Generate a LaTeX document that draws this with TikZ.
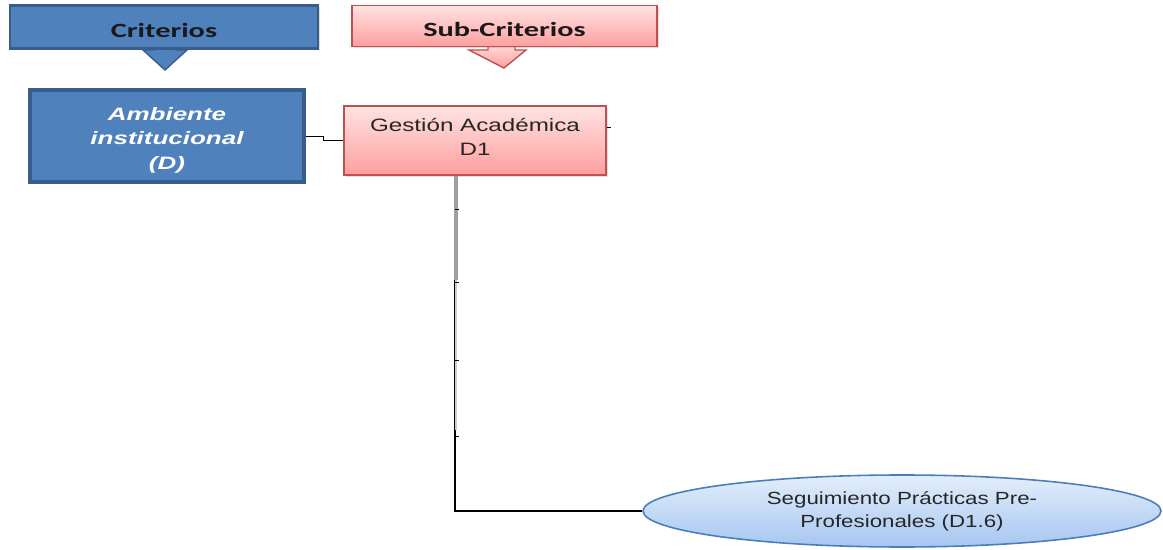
\documentclass[tikz,border=0pt]{standalone}
\usepackage{fontspec}
\setmainfont{Liberation Sans}
\newfontfamily\headfont[FakeStretch=1.5]{Carlito}
\newfontfamily\ambfont[FakeStretch=1.45]{Liberation Sans}
\newfontfamily\gestfont[FakeStretch=1.35]{Liberation Sans}
\newfontfamily\segfont[FakeStretch=1.27]{Liberation Sans}
\usetikzlibrary{shapes.geometric,shadows}
\definecolor{critblue}{HTML}{4F81BD}
\definecolor{critedge}{HTML}{385D8A}
\definecolor{subedge}{HTML}{C0504D}
\definecolor{subtop}{HTML}{FFE3E3}
\definecolor{subbot}{HTML}{FF9E9E}
\definecolor{ovaledge}{HTML}{4A7EBB}
\definecolor{ovaltop}{HTML}{E3EEFC}
\definecolor{ovalbot}{HTML}{A6C6F0}
\definecolor{txtgray}{HTML}{262626}
\begin{document}
\begin{tikzpicture}[x=0.02cm,y=-0.02cm,
 critbox/.style={draw=critedge,fill=critblue,line width=1.2pt,inner sep=0pt,
   drop shadow={opacity=0.25,shadow xshift=1pt,shadow yshift=-1pt}},
 subbox/.style={draw=subedge,top color=subtop,bottom color=subbot,line width=0.9pt,inner sep=0pt,
   drop shadow={opacity=0.25,shadow xshift=1pt,shadow yshift=-1pt}},
 headtxt/.style={font=\headfont\fontsize{11.5}{13}\selectfont\bfseries,text=black!90,text height=11.5pt,text depth=0pt},
 boxtxt/.style={align=center,text=txtgray}]
 \useasboundingbox (0,0) rectangle (1163,550);
 \draw[critedge,fill=critblue,line width=0.8pt](154,44)--(154,50)--(143,50)--(165,70)--(187,50)--(176,50)--(176,44)--cycle;
 \draw[subedge,top color=subtop,bottom color=subbot,line width=0.8pt](488,42)--(488,50)--(469,50)--(504,68)--(526,50)--(515,50)--(515,42)--cycle;
 \node[critbox,headtxt,minimum width=308*0.02cm,minimum height=43*0.02cm] (crit) at (164,27) {Criterios};
 \node[critbox,line width=2.2pt,minimum width=274*0.02cm,minimum height=92*0.02cm,
   font=\ambfont\fontsize{10.2}{14}\selectfont\bfseries\itshape,text=white,align=center] (amb) at (167,136) {\rule{0pt}{12pt}Ambiente\\institucional\\(D)};
 \node[subbox,headtxt,minimum width=305*0.02cm,minimum height=41*0.02cm] (subcrit) at (504.5,26) {Sub-Criterios};
 \node[subbox,boxtxt,font=\gestfont\fontsize{10.2}{13.7}\selectfont,
   minimum width=262*0.02cm,minimum height=69*0.02cm] (gest) at (475,140.5) {Gestión Académica\\D1\\[-9.2pt]};
 \node[ellipse,draw=ovaledge,line width=0.9pt,top color=ovaltop,bottom color=ovalbot,inner sep=0pt,
   minimum width=518*0.02cm,minimum height=72*0.02cm,boxtxt,font=\segfont\fontsize{10}{13.2}\selectfont] (seg) at (902,511) {Seguimiento Prácticas Pre-\\Profesionales (D1.6)};
 \coordinate (spine) at (455,0);
 \coordinate (grayend) at (455,280);
 \coordinate (lightend) at (455,430);
 \draw[line width=0.5pt] (amb.east) -- ++(18,0) |- (gest.west);
 \draw[line width=0.5pt] (gest.east |- 0,127) -- ++(4,0);
 \draw[line width=0.6pt] (gest.south -| spine) |- (seg.west);
 \draw[gray!75,line width=2pt] ([xshift=0.5pt]gest.south -| spine) -- ([xshift=0.5pt]grayend);
 \draw[gray!40,line width=1.2pt] ([xshift=0.8pt]grayend) -- ([xshift=0.8pt]lightend);
 \foreach \ty in {209,282,360,436}
   \draw[line width=0.5pt] (455,\ty) -- ++(4,0);
\end{tikzpicture}
\end{document}
